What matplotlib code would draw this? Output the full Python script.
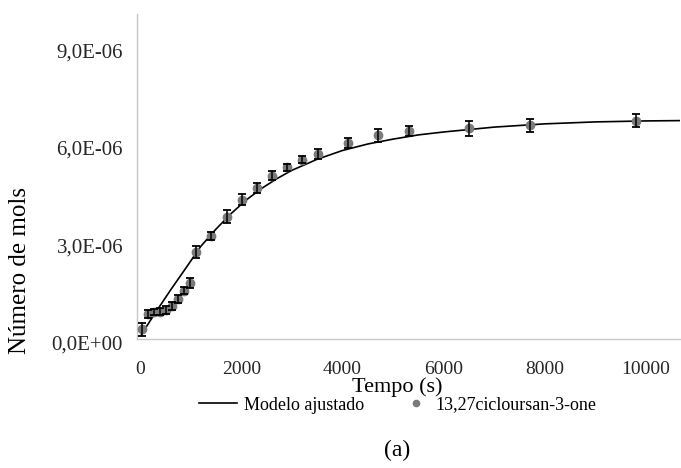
import numpy as np
import matplotlib.pyplot as plt
from matplotlib.transforms import ScaledTranslation
from matplotlib.lines import Line2D

plt.rcParams['font.family'] = ['Liberation Serif', 'DejaVu Serif']

# measured points (time in s, moles in 1e-6)
t_exp = [30, 150, 270, 390, 510, 630, 750, 870, 990, 1110, 1410, 1710, 2010,
         2310, 2610, 2910, 3210, 3510, 4110, 4710, 5310, 6510, 7710, 9810]
n_exp = [0.30, 0.77, 0.83, 0.84, 0.90, 1.02, 1.23, 1.49, 1.72, 2.67, 3.16, 3.76,
         4.29, 4.65, 5.03, 5.28, 5.52, 5.69, 6.04, 6.27, 6.40, 6.48, 6.57, 6.71]
n_err = [0.20, 0.12, 0.10, 0.10, 0.12, 0.12, 0.12, 0.12, 0.15, 0.18, 0.12, 0.20,
         0.18, 0.16, 0.14, 0.12, 0.10, 0.15, 0.15, 0.20, 0.15, 0.22, 0.20, 0.20]

# fitted model curve
t_mod = [30, 300, 600, 900, 1200, 1500, 1800, 2100, 2400, 2700, 3000, 3500,
         4000, 4500, 5000, 5500, 6000, 7000, 8000, 9000, 10000, 10670]
n_mod = [0.15, 0.80, 1.50, 2.17, 2.85, 3.38, 3.86, 4.28, 4.63, 4.93, 5.19, 5.53,
         5.80, 6.00, 6.15, 6.28, 6.37, 6.52, 6.62, 6.68, 6.71, 6.72]

y_ticks = [0, 3e-6, 6e-6, 9e-6]
y_labels = ['0,0E+00', '3,0E-06', '6,0E-06', '9,0E-06']
x_ticks = [0, 2000, 4000, 6000, 8000, 10000]

W, H = 681, 468
fig = plt.figure(figsize=(W / 100, H / 100), dpi=100)
ax = fig.add_axes([137 / W, 1 - 339 / H, 543 / W, 325 / H])

n_exp_m = np.array(n_exp) * 1e-6
n_err_m = np.array(n_err) * 1e-6
n_mod_m = np.array(n_mod) * 1e-6

ax.plot(t_mod, n_mod_m, color='black', lw=1.2, zorder=2)
ax.plot(t_exp, n_exp_m, 'o', color='#7a7a7a', ms=6, mec='#7a7a7a', zorder=3)
ax.errorbar(t_exp, n_exp_m, yerr=n_err_m, fmt='none', ecolor='black',
            elinewidth=1.1, capsize=3, capthick=1.3, zorder=4)

ax.set_xlim(-60, 10670)
ax.set_ylim(0, 1e-5)
ax.set_xticks(x_ticks)
ax.set_yticks(y_ticks)
ax.set_yticklabels(y_labels)

for s in ['top', 'right']:
    ax.spines[s].set_visible(False)
for s in ['left', 'bottom']:
    ax.spines[s].set_color('#c8c8c8')
    ax.spines[s].set_linewidth(1.0)
ax.tick_params(length=0, colors='#262626')
ax.tick_params(axis='y', pad=10, labelsize=15)
ax.tick_params(axis='x', pad=16, labelsize=14)
for lab in ax.get_yticklabels():
    lab.set_transform(lab.get_transform() + ScaledTranslation(0, -4 / 100, fig.dpi_scale_trans))

fig.text(397 / W, 1 - 387 / H, 'Tempo (s)', ha='center', va='center', fontsize=16)
fig.text(20 / W, 1 - 270 / H, 'Número de mols', ha='center', va='center',
         rotation=90, fontsize=18)
fig.text(397 / W, 1 - 450 / H, '(a)', ha='center', va='center', fontsize=17)

h1 = Line2D([], [], color='black', lw=1.2)
h2 = Line2D([], [], ls='none', marker='o', color='#7a7a7a', ms=4.5)
leg1 = fig.legend([h1], ['Modelo ajustado'], loc='center left',
                  bbox_to_anchor=(183 / W, 1 - 405 / H), frameon=False,
                  fontsize=13, handlelength=2.1, handletextpad=0.4)
leg2 = fig.legend([h2], ['13,27cicloursan-3-one'], loc='center left',
                  bbox_to_anchor=(387 / W, 1 - 405 / H), frameon=False,
                  fontsize=13, handlelength=1.4, handletextpad=0.4)

fig.savefig('out.png', dpi=100)
